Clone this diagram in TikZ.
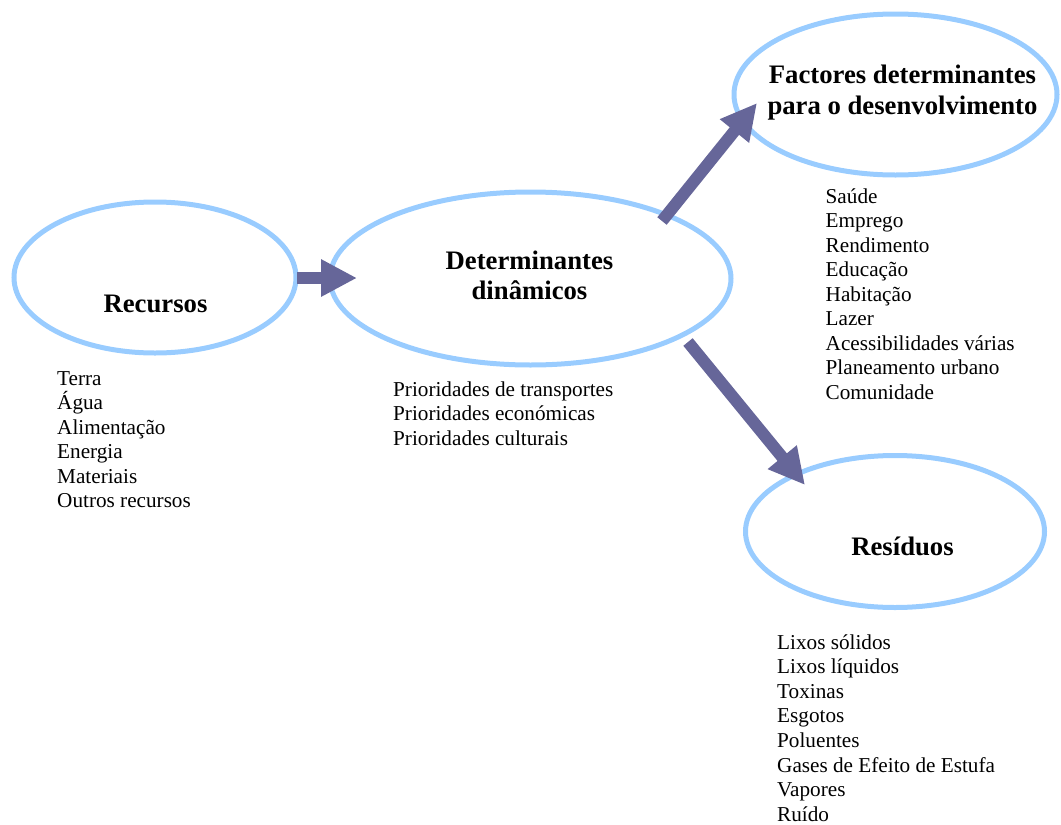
\documentclass[tikz,border=0pt]{standalone}
\usepackage{fontspec}
\setmainfont{Liberation Serif}
\usetikzlibrary{shapes.geometric,arrows.meta}
\definecolor{ringblue}{HTML}{99CCFF}
\definecolor{flowpurple}{HTML}{666699}
\begin{document}
\begin{tikzpicture}[x=1pt,y=-1pt,
  ring/.style={ellipse,draw=ringblue,line width=5pt,inner sep=0pt},
  heading/.style={font=\fontsize{26.7}{30}\selectfont\bfseries,inner sep=0pt,anchor=base},
  item/.style={font=\fontsize{21.2}{24.5}\selectfont,inner sep=0pt,anchor=base west},
  flow/.style={draw=flowpurple,line width=12pt,-{Triangle[length=36pt,width=35pt]}}]
\useasboundingbox (0,0) rectangle (1061,825);

% the four ellipses
\node[ring,minimum width=282pt,minimum height=151pt] (rec) at (155,277.5) {};
\node[ring,minimum width=401pt,minimum height=173pt] (det) at (530.5,278.5) {};
\node[ring,minimum width=323pt,minimum height=161pt] (fac) at (895.5,94.5) {};
\node[ring,minimum width=299pt,minimum height=152pt] (res) at (895,531.5) {};

% titles
\node[heading] (recLabel) at (155.5,312) {Recursos};
\node[heading] (detLabelA) at (529.5,269) {Determinantes};
\node[heading] (detLabelB) at (529.5,299) {dinâmicos};
\node[heading] (facLabelA) at (902.5,83) {Factores determinantes};
\node[heading] (facLabelB) at (902.5,114) {para o desenvolvimento};
\node[heading] (resLabel) at (902.5,555) {Resíduos};

% lists
\foreach \w [count=\i from 0] in {Terra,Água,Alimentação,Energia,Materiais,Outros recursos}
  \node[item] (recItem\i) at (57,{385+24.5*\i}) {\w};
\foreach \w [count=\i from 0] in {Prioridades de transportes,Prioridades económicas,Prioridades culturais}
  \node[item] (detItem\i) at (393,{396+24.5*\i}) {\w};
\foreach \w [count=\i from 0] in {Saúde,Emprego,Rendimento,Educação,Habitação,Lazer,Acessibilidades várias,Planeamento urbano,Comunidade}
  \node[item] (facItem\i) at (825.5,{203+24.5*\i}) {\w};
\foreach \w [count=\i from 0] in {Lixos sólidos,Lixos líquidos,Toxinas,Esgotos,Poluentes,Gases de Efeito de Estufa,Vapores,Ruído}
  \node[item] (resItem\i) at (777,{649+24.6*\i}) {\w};

% arrow ends
\coordinate (recOut) at (297,278);
\coordinate (detIn) at (357,278);
\coordinate (detUp) at (662,221);
\coordinate (facIn) at (757,103);
\coordinate (detDown) at (688,342);
\coordinate (resIn) at (805,485);

% flows
\draw[flow] (recOut) -- (detIn);
\draw[flow] (detUp) -- (facIn);
\draw[flow] (detDown) -- (resIn);
\end{tikzpicture}
\end{document}
